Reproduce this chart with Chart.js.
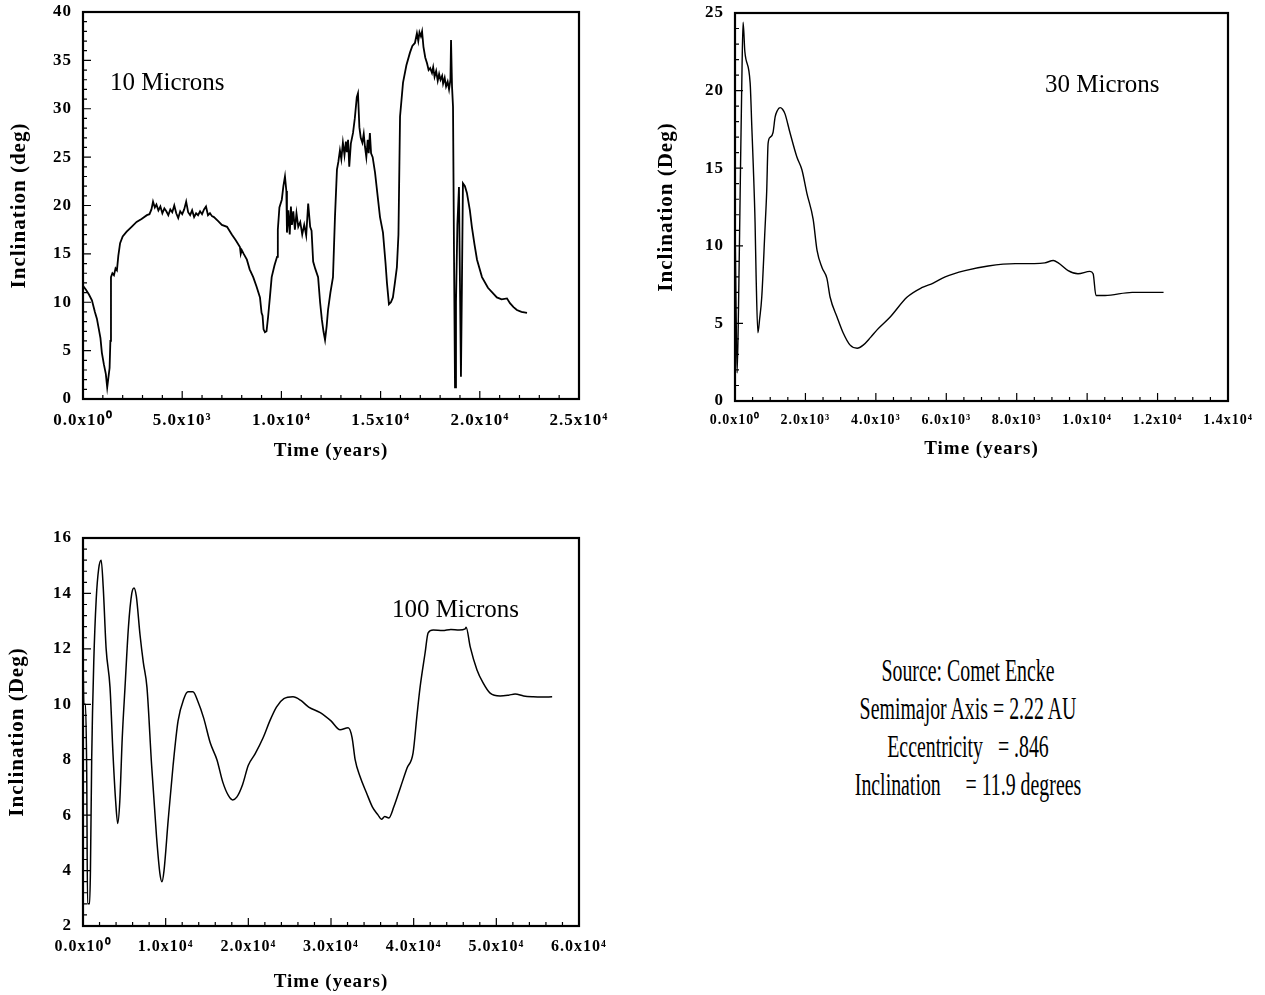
<!DOCTYPE html>
<html>
<head>
<meta charset="utf-8">
<script src="https://cdn.jsdelivr.net/npm/chart.js@4.4.1/dist/chart.umd.min.js"></script>
<style>
  body { margin: 0; background: #fff; width: 1265px; height: 995px; position: relative; overflow: hidden; font-family: "Liberation Serif", "Times New Roman", serif; color: #000; }
  canvas { position: absolute; }
  .note { position: absolute; font-size: 25px; line-height: 25px; white-space: nowrap; }
  .info { position: absolute; left: 768px; top: 651px; width: 400px; text-align: center; font-size: 32px; line-height: 38px; white-space: pre; transform: scaleX(0.62); transform-origin: center; }
</style>
</head>
<body>
<canvas id="c10" width="620" height="480" style="left:0;top:0"></canvas>
<canvas id="c30" width="615" height="480" style="left:650px;top:0"></canvas>
<canvas id="c100" width="620" height="475" style="left:0;top:520px"></canvas>

<div class="note" style="left:110px;top:69px">10 Microns</div>
<div class="note" style="left:1045px;top:71px">30 Microns</div>
<div class="note" style="left:392px;top:596px">100 Microns</div>

<div class="info">Source: Comet Encke
Semimajor Axis = 2.22 AU
Eccentricity   = .846
Inclination     = 11.9 degrees</div>

<script>
// 10 micron particles
const time10 = [0, 150, 300, 450, 600, 700, 800, 880, 950, 1050, 1150, 1220, 1280, 1340, 1380, 1410, 1480, 1560, 1640, 1710,
  1780, 1870, 2000, 2200, 2450, 2700, 2950, 3220, 3350, 3450, 3530, 3620, 3700, 3800, 3900, 4000, 4100, 4200, 4300, 4400,
  4500, 4600, 4700, 4800, 4900, 5000, 5100, 5200, 5300, 5400, 5500, 5600, 5700, 5800, 5900, 6000, 6100, 6200, 6300, 6400,
  6500, 6600, 6800, 7000, 7260, 7500, 7700, 7910, 7950, 8000, 8100, 8260, 8400, 8580, 8750, 8920, 9000, 9050, 9100, 9170,
  9250, 9330, 9420, 9510, 9650, 9780, 9820, 9900, 10020, 10100, 10180, 10250, 10280, 10350, 10420, 10480, 10530, 10600, 10680, 10760,
  10850, 10950, 11050, 11150, 11250, 11350, 11450, 11520, 11600, 11700, 11850, 11950, 12040, 12120, 12200, 12280, 12350, 12470, 12600, 12700,
  12800, 12870, 12950, 13020, 13100, 13180, 13250, 13300, 13360, 13420, 13500, 13610, 13700, 13800, 13860, 13930, 14000, 14080, 14150, 14210,
  14280, 14350, 14400, 14460, 14520, 14600, 14720, 14850, 14970, 15120, 15250, 15320, 15420, 15520, 15620, 15720, 15820, 15900, 15980, 16130,
  16300, 16480, 16600, 16730, 16830, 16900, 16960, 17030, 17090, 17160, 17250, 17340, 17420, 17500, 17590, 17650, 17720, 17800, 17880, 17950,
  18020, 18100, 18150, 18230, 18300, 18380, 18450, 18520, 18550, 18600, 18650, 18700, 18750, 18800, 18870, 18950, 19000, 19050, 19100, 19150,
  19250, 19350, 19500, 19600, 19730, 19860, 20110, 20410, 20860, 21100, 21370, 21520, 21700, 21870, 22100, 22380];
const incl10 = [11.7, 11.3, 10.8, 10.2, 9.0, 8.3, 7.2, 6.3, 4.8, 3.6, 2.6, 1.2, 2.2, 3.2, 6.0, 12.6, 13.0, 12.8, 13.5, 13.3,
  14.8, 16.1, 16.8, 17.3, 17.8, 18.3, 18.6, 19.0, 19.1, 19.6, 20.4, 19.8, 20.1, 19.5, 19.9, 19.2, 19.7, 19.4, 19.0, 19.6,
  19.3, 20.0, 19.2, 18.7, 19.4, 19.1, 19.6, 20.4, 19.3, 19.0, 19.5, 18.8, 19.2, 19.0, 19.4, 19.1, 19.6, 19.9, 19.0, 19.2,
  18.9, 18.8, 18.4, 18.0, 17.8, 17.0, 16.4, 15.7, 15.0, 15.4, 15.0, 14.4, 13.4, 12.6, 11.6, 10.5, 8.9, 8.6, 7.2, 6.9,
  7.0, 8.5, 10.5, 12.6, 13.8, 14.7, 17.5, 19.8, 20.6, 22.0, 23.0, 21.5, 17.2, 19.5, 17.0, 19.9, 18.0, 19.4, 17.5, 19.2,
  17.8, 18.3, 17.0, 18.0, 16.9, 20.2, 17.8, 17.4, 14.2, 13.5, 12.6, 10.0, 8.2, 7.0, 6.1, 7.5, 9.2, 11.0, 12.6, 18.8,
  23.7, 24.5, 25.7, 24.8, 26.5, 25.2, 26.6, 25.5, 26.8, 24.0, 26.4, 27.5, 29.0, 31.2, 31.6, 28.1, 27.0, 26.5, 27.4, 26.1,
  25.0, 26.8, 25.4, 27.5, 25.4, 25.0, 23.4, 21.0, 18.8, 17.2, 14.0, 12.0, 9.8, 10.0, 10.5, 12.0, 13.6, 17.0, 29.2, 32.7,
  34.5, 35.8, 36.5, 36.8, 37.8, 37.0, 37.9, 37.5, 38.0, 36.4, 35.3, 34.7, 34.0, 34.2, 33.7, 34.3, 33.3, 33.9, 32.9, 33.6,
  33.0, 33.4, 32.6, 33.2, 32.3, 32.8, 32.0, 33.0, 37.1, 32.3, 30.2, 15.0, 1.2, 10.0, 18.0, 21.9, 12.0, 2.3, 12.0, 22.3,
  22.0, 21.3, 19.5, 17.8, 16.0, 14.4, 12.6, 11.5, 10.5, 10.3, 10.4, 9.9, 9.5, 9.2, 9.0, 8.9];

// 30 micron particles
const time30 = [0, 30, 60, 100, 150, 200, 230, 280, 430, 480, 520, 570, 600, 650, 700, 760, 850, 900, 940, 1000,
  1080, 1140, 1200, 1280, 1350, 1420, 1560, 1760, 1900, 2040, 2220, 2330, 2470, 2610, 2700, 2900, 3070, 3270, 3470, 3640,
  3850, 4040, 4400, 4890, 5300, 5630, 5970, 6530, 7190, 7960, 8500, 8800, 9040, 9180, 9460, 9740, 10080, 10170, 10250, 10510,
  11280, 12170];
const incl30 = [11.9, 6.0, 1.8, 6.0, 14.0, 21.5, 24.4, 22.5, 20.5, 17.5, 15.1, 11.5, 8.0, 4.4, 5.3, 6.7, 11.0, 13.5, 16.6, 17.0,
  17.3, 18.3, 18.7, 18.9, 18.8, 18.5, 17.3, 15.7, 14.9, 13.4, 11.7, 9.7, 8.6, 7.9, 6.7, 5.4, 4.4, 3.6, 3.4, 3.6,
  4.1, 4.6, 5.4, 6.7, 7.3, 7.6, 8.0, 8.4, 8.7, 8.85, 8.85, 8.9, 9.05, 8.9, 8.4, 8.2, 8.35, 8.2, 6.8, 6.8,
  7.0, 7.0];

// 100 micron particles
const time100 = [0, 100, 300, 450, 550, 800, 900, 1050, 1300, 1600, 1900, 2200, 2450, 2800, 3270, 3630, 3950, 4200, 4450, 4750,
  5080, 5500, 5900, 6170, 6450, 6900, 7300, 7740, 8300, 8900, 9300, 9550, 9800, 10300, 10900, 11500, 12200, 12700, 13300, 13900,
  14600, 15400, 16200, 16900, 17600, 18100, 18600, 19300, 20000, 20800, 21800, 22600, 23400, 24300, 25400, 26300, 27300, 28700, 30000, 31100,
  32070, 32550, 32920, 33500, 34300, 35000, 35700, 36100, 36500, 37000, 37600, 38400, 39200, 39930, 40400, 40770, 41380, 41750, 42370, 43500,
  44500, 45500, 46240, 46350, 46840, 47660, 48400, 49250, 50460, 51500, 52270, 53300, 54450, 55500, 56750];
const incl100 = [11.9, 10.0, 10.0, 7.5, 2.8, 2.8, 4.0, 8.0, 11.5, 13.8, 14.9, 15.2, 14.2, 12.0, 10.6, 8.2, 6.5, 5.7, 6.5, 8.8,
  10.6, 12.8, 14.0, 14.2, 13.9, 12.5, 11.5, 10.6, 7.8, 5.2, 3.9, 3.6, 4.0, 5.8, 7.8, 9.4, 10.2, 10.45, 10.45, 10.1,
  9.5, 8.6, 8.0, 7.2, 6.7, 6.55, 6.65, 7.1, 7.8, 8.2, 8.8, 9.4, 9.9, 10.2, 10.27, 10.15, 9.9, 9.7, 9.4, 9.08,
  9.15, 8.8, 8.0, 7.4, 6.8, 6.3, 6.0, 5.85, 5.95, 5.9, 6.3, 7.0, 7.7, 8.25, 9.6, 10.6, 11.85, 12.58, 12.68, 12.66,
  12.70, 12.68, 12.72, 12.78, 12.07, 11.24, 10.77, 10.4, 10.3, 10.33, 10.37, 10.3, 10.27, 10.26, 10.27];

// tick labels
const xLabels10 = ['0.0x10⁰', '5.0x10³', '1.0x10⁴', '1.5x10⁴', '2.0x10⁴', '2.5x10⁴'];
const xLabels30 = ['0.0x10⁰', '2.0x10³', '4.0x10³', '6.0x10³', '8.0x10³', '1.0x10⁴', '1.2x10⁴', '1.4x10⁴'];
const xLabels100 = ['0.0x10⁰', '1.0x10⁴', '2.0x10⁴', '3.0x10⁴', '4.0x10⁴', '5.0x10⁴', '6.0x10⁴'];

const serif = '"Liberation Serif", "Times New Roman", serif';

// the old typewriter-ish labels run a bit wider than Times
const spacingPlugin = {
  id: 'spacing',
  beforeDraw(chart) {
    chart.ctx.letterSpacing = '1px';
  }
};

// box around the plot plus inward ticks
const framePlugin = {
  id: 'frame',
  afterDatasetsDraw(chart, args, opts) {
    const ctx = chart.ctx;
    const a = chart.chartArea;
    const x = chart.scales.x;
    const y = chart.scales.y;
    ctx.save();
    ctx.strokeStyle = '#000';
    ctx.lineWidth = 1.2;
    ctx.beginPath();
    for (let v = x.min; v <= x.max + 1e-6; v += opts.xMinor) {
      const px = x.getPixelForValue(v);
      const major = x.ticks.some(t => Math.abs(t.value - v) < 1e-6);
      ctx.moveTo(px, a.bottom);
      ctx.lineTo(px, a.bottom - (major ? 8 : 4));
    }
    for (let v = y.min; v <= y.max + 1e-6; v += opts.yMinor) {
      const py = y.getPixelForValue(v);
      const major = y.ticks.some(t => Math.abs(t.value - v) < 1e-6);
      ctx.moveTo(a.left, py);
      ctx.lineTo(a.left + (major ? 8 : 4), py);
    }
    ctx.stroke();
    ctx.lineWidth = 2.2;
    ctx.strokeRect(a.left, a.top, a.right - a.left, a.bottom - a.top);
    ctx.restore();
  }
};

function makeChart(id, xs, ys, o) {
  const points = xs.map((t, i) => ({ x: t, y: ys[i] }));
  return new Chart(document.getElementById(id), {
    type: 'line',
    data: {
      datasets: [{
        data: points,
        borderColor: '#000',
        borderWidth: o.lineWidth,
        pointRadius: 0,
        tension: o.smooth ? 0.4 : 0,
        cubicInterpolationMode: o.smooth ? 'monotone' : 'default',
        fill: false
      }]
    },
    options: {
      responsive: false,
      animation: false,
      events: [],
      layout: { padding: { top: o.top, right: o.right, left: 0, bottom: 0 } },
      plugins: {
        legend: { display: false },
        tooltip: { enabled: false },
        frame: { xMinor: o.xMinor, yMinor: o.yMinor }
      },
      scales: {
        x: {
          type: 'linear',
          min: 0,
          max: o.xMax,
          grid: { display: false },
          border: { display: false },
          afterFit: s => { s.height = o.xHeight; s.paddingLeft = 0; s.paddingRight = 0; },
          ticks: {
            stepSize: o.xStep,
            maxRotation: 0,
            autoSkip: false,
            padding: 3,
            color: '#000',
            font: { family: serif, size: o.xFont, weight: 'bold' },
            callback: (v, i) => o.xLabels[i]
          },
          title: {
            display: true,
            text: 'Time (years)',
            color: '#000',
            font: { family: serif, size: 19, weight: 'bold' },
            padding: { top: 0, bottom: o.xTitlePad }
          }
        },
        y: {
          min: o.yMin,
          max: o.yMax,
          grid: { display: false },
          border: { display: false },
          afterFit: s => { s.width = o.yWidth; s.paddingTop = 0; s.paddingBottom = 0; },
          ticks: {
            stepSize: o.yStep,
            padding: 3,
            color: '#000',
            font: { family: serif, size: 17, weight: 'bold' }
          },
          title: {
            display: true,
            text: o.yTitle,
            color: '#000',
            font: { family: serif, size: 21, weight: 'bold' },
            padding: { top: o.yTitlePad, bottom: 0 }
          }
        }
      }
    },
    plugins: [spacingPlugin, framePlugin]
  });
}

makeChart('c10', time10, incl10, {
  lineWidth: 1.8, smooth: false, top: 12, right: 41, xMax: 25000, xStep: 5000, xMinor: 1000, xLabels: xLabels10, xFont: 17,
  xHeight: 81, xTitlePad: 18, yMin: 0, yMax: 40, yStep: 5, yMinor: 1, yWidth: 83, yTitle: 'Inclination (deg)', yTitlePad: 7
});

makeChart('c30', time30, incl30, {
  lineWidth: 1.4, smooth: true, top: 13, right: 37, xMax: 14000, xStep: 2000, xMinor: 500, xLabels: xLabels30, xFont: 14,
  xHeight: 79, xTitlePad: 20, yMin: 0, yMax: 25, yStep: 5, yMinor: 1, yWidth: 85, yTitle: 'Inclination (Deg)', yTitlePad: 4
});

makeChart('c100', time100, incl100, {
  lineWidth: 1.5, smooth: true, top: 18, right: 41, xMax: 60000, xStep: 10000, xMinor: 2000, xLabels: xLabels100, xFont: 16,
  xHeight: 69, xTitlePad: 2, yMin: 2, yMax: 16, yStep: 2, yMinor: 0.4, yWidth: 83, yTitle: 'Inclination (Deg)', yTitlePad: 5
});
</script>
</body>
</html>
